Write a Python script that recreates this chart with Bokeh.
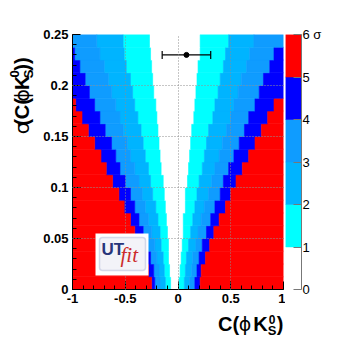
import numpy as np
from bokeh.plotting import figure
from bokeh.layouts import row, column
from bokeh.models import Range1d, FixedTicker, Label, BoxAnnotation, ColumnDataSource
from bokeh.core.properties import value
from bokeh.embed import file_html
from bokeh.resources import INLINE

# ---------------- data ----------------
# sigma(C) bin edges (rows of the 2D map, bottom -> top)
sigma_edges = [0.0, 0.0125, 0.025, 0.0375, 0.05, 0.0625, 0.075, 0.0875, 0.1, 0.1125,
               0.125, 0.1375, 0.15, 0.1625, 0.175, 0.1875, 0.2, 0.2125, 0.225, 0.2375, 0.25]

# C value where the compatibility crosses 1..5 sigma, left side, per row (bottom -> top)
left_1 = [-0.07, -0.08, -0.09, -0.09, -0.10, -0.11, -0.12, -0.13, -0.14, -0.16,
          -0.17, -0.18, -0.19, -0.20, -0.21, -0.23, -0.24, -0.25, -0.26, -0.27]
left_2 = [-0.12, -0.13, -0.14, -0.16, -0.17, -0.19, -0.21, -0.24, -0.26, -0.28,
          -0.31, -0.33, -0.35, -0.38, -0.41, -0.43, -0.45, -0.49, -0.51, -0.52]
left_3 = [-0.17, -0.18, -0.20, -0.22, -0.25, -0.28, -0.31, -0.34, -0.37, -0.41,
          -0.45, -0.48, -0.52, -0.55, -0.59, -0.63, -0.66, -0.70, -0.74, -0.77]
left_4 = [-0.22, -0.23, -0.26, -0.29, -0.33, -0.37, -0.41, -0.45, -0.50, -0.55,
          -0.59, -0.63, -0.69, -0.74, -0.79, -0.84, -0.88, -0.93, -0.98, -1.00]
left_5 = [-0.25, -0.28, -0.32, -0.36, -0.41, -0.45, -0.51, -0.56, -0.62, -0.68,
          -0.73, -0.79, -0.85, -0.91, -0.97, -1.00, -1.00, -1.00, -1.00, -1.00]
# same, right side
right_1 = [0.01, 0.02, 0.03, 0.04, 0.05, 0.05, 0.07, 0.07, 0.09, 0.10,
           0.11, 0.12, 0.13, 0.15, 0.16, 0.17, 0.18, 0.19, 0.21, 0.21]
right_2 = [0.06, 0.07, 0.08, 0.10, 0.12, 0.14, 0.16, 0.18, 0.20, 0.23,
           0.25, 0.27, 0.29, 0.33, 0.35, 0.38, 0.40, 0.43, 0.45, 0.48]
right_3 = [0.11, 0.13, 0.14, 0.17, 0.19, 0.22, 0.25, 0.29, 0.32, 0.35,
           0.39, 0.42, 0.46, 0.50, 0.53, 0.57, 0.60, 0.65, 0.68, 0.72]
right_4 = [0.16, 0.18, 0.20, 0.23, 0.27, 0.31, 0.35, 0.40, 0.43, 0.48,
           0.53, 0.58, 0.63, 0.67, 0.73, 0.77, 0.81, 0.87, 0.91, 1.00]
right_5 = [0.21, 0.22, 0.26, 0.30, 0.34, 0.39, 0.45, 0.50, 0.55, 0.61,
           0.67, 0.73, 0.79, 0.85, 0.91, 1.00, 1.00, 1.00, 1.00, 1.00]

# colour scale (sigma levels)
levels = [0, 1, 2, 3, 4, 5, 6]
level_labels = ["0", "1", "2", "3", "4", "5", "6  \u03c3"]
palette = ["#ffffff", "#00ffff", "#00b4ff", "#0f9cff", "#0000ff", "#ff0000"]

# measurement
meas_C = [0.08]
meas_err = [0.23]
meas_sigma = [0.23]

x_ticks = [-1, -0.5, 0, 0.5, 1]
x_tick_labels = ["-1", "-0.5", "0", "0.5", "1"]
y_ticks = [0, 0.05, 0.1, 0.15, 0.2, 0.25]
y_tick_labels = ["0", "0.05", "0.1", "0.15", "0.2", "0.25"]

X_MIN, X_MAX = -1.0, 1.0
Y_MIN, Y_MAX = 0.0, 0.25

# ---------------- layout geometry (page pixels) ----------------
FR_L, FR_R, FR_T, FR_B = 72, 283, 34, 289   # main frame
YT_W = 34          # y-title strip width
TOP_H = 311        # height of the top row
BOT_H = 29         # x-title strip height
MAIN_R = 285       # right end of the main figure
CB_BAR = 16        # colour bar width
CB_W = 45          # colour-bar figure width (bar + labels)
MAIN_W = MAIN_R - YT_W
TOTAL_W = YT_W + MAIN_W + CB_W

# ---------------- build map cells ----------------
L = [left_1, left_2, left_3, left_4, left_5]
R = [right_1, right_2, right_3, right_4, right_5]
cells = dict(left=[], right=[], bottom=[], top=[], color=[])


def add(l, r, b, t, lev):
    if r > l:
        cells["left"].append(l)
        cells["right"].append(r)
        cells["bottom"].append(b)
        cells["top"].append(t)
        cells["color"].append(palette[lev])


for k in range(len(sigma_edges) - 1):
    b, t = sigma_edges[k], sigma_edges[k + 1]
    add(L[0][k], R[0][k], b, t, 0)
    for n in range(1, 5):
        add(L[n][k], L[n - 1][k], b, t, n)
        add(R[n - 1][k], R[n][k], b, t, n)
    add(X_MIN, L[4][k], b, t, 5)
    add(R[4][k], X_MAX, b, t, 5)

# ---------------- main figure ----------------
p = figure(width=MAIN_W, height=TOP_H, x_range=Range1d(X_MIN, X_MAX), y_range=Range1d(Y_MIN, Y_MAX),
           output_backend="svg", toolbar_location=None, title=None,
           min_border_left=FR_L - YT_W, min_border_right=MAIN_R - FR_R,
           min_border_top=FR_T, min_border_bottom=TOP_H - FR_B)
p.outline_line_color = None
p.background_fill_color = "white"
p.border_fill_color = "white"

p.quad(left="left", right="right", bottom="bottom", top="top", fill_color="color",
       line_color="color", line_width=0.6, source=ColumnDataSource(cells))

# measurement with horizontal error bar
lo = [c - e for c, e in zip(meas_C, meas_err)]
hi = [c + e for c, e in zip(meas_C, meas_err)]
p.segment(x0=lo, x1=hi, y0=meas_sigma, y1=meas_sigma, line_color="black", line_width=1.2)
p.scatter(x=lo + hi, y=meas_sigma + meas_sigma, marker="dash", angle=np.pi / 2, size=8,
          line_color="black", line_width=1.2)
p.scatter(x=meas_C, y=meas_sigma, marker="circle", size=5, color="black")

# axes
tick_font = "Liberation Sans"
p.xaxis.ticker = FixedTicker(ticks=x_ticks, minor_ticks=list(np.round(np.arange(-1, 1.0001, 0.1), 2)))
p.yaxis.ticker = FixedTicker(ticks=y_ticks, minor_ticks=list(np.round(np.arange(0, 0.25001, 0.01), 3)))
p.xaxis.major_label_overrides = dict(zip(x_ticks, x_tick_labels))
p.yaxis.major_label_overrides = dict(zip(y_ticks, y_tick_labels))
for ax in (p.xaxis, p.yaxis):
    ax.major_label_text_font = tick_font
    ax.major_label_text_font_style = "bold"
    ax.major_label_text_font_size = "13px"
    ax.major_label_text_color = "black"
    ax.major_label_standoff = 4
    ax.major_tick_in = 8
    ax.major_tick_out = 0
    ax.minor_tick_in = 4
    ax.minor_tick_out = 0
    ax.axis_line_color = "black"
    ax.major_tick_line_color = "black"
    ax.minor_tick_line_color = "black"

for g in p.grid:
    g.grid_line_color = "#8c8c8c"
    g.grid_line_dash = "1 2"
    g.grid_line_width = 1
    g.level = "guide"
p.xgrid.ticker = FixedTicker(ticks=x_ticks)
p.ygrid.ticker = FixedTicker(ticks=y_ticks)


# helpers: page pixel position -> data coordinates of the main frame
def dx(px):
    return X_MIN + (px - FR_L) * (X_MAX - X_MIN) / (FR_R - FR_L)


def dy(py):
    return Y_MIN + (FR_B - py) * (Y_MAX - Y_MIN) / (FR_B - FR_T)


# UTfit logo
p.add_layout(BoxAnnotation(left=dx(95), right=dx(148), bottom=dy(275), top=dy(233),
                           fill_color="white", fill_alpha=1, line_color=None))
p.add_layout(BoxAnnotation(left=dx(99), right=dx(145), bottom=dy(270), top=dy(237),
                           fill_color="#f3f3f8", fill_alpha=1, line_color="#7d8cc0",
                           line_width=1.5, border_radius=3))
p.add_layout(Label(x=dx(101), y=dy(258), text="UT", text_font="Liberation Sans",
                   text_font_style="bold", text_font_size="17px", text_color="#28357a"))
p.add_layout(Label(x=dx(120), y=dy(266), text="fit", text_font="Liberation Serif",
                   text_font_style="italic", text_font_size="21px", text_color="#cc2b2b"))


def strip(w, h):
    f = figure(width=w, height=h, x_range=Range1d(0, w), y_range=Range1d(0, h),
               x_axis_location=None, y_axis_location=None, output_backend="svg",
               toolbar_location=None, title=None, min_border=0)
    f.outline_line_color = None
    f.grid.visible = False
    return f


title_font = "Liberation Sans"

# x axis title  C(phi K^0_S)  -- strip below the main row; pieces placed by their centres
xt = strip(TOTAL_W, BOT_H)


def xpiece(text, cx, cy, size, bold=True, font=title_font):
    xt.text(x=[cx], y=[TOP_H + BOT_H - cy], text=[text], text_font=value(font),
            text_font_style="bold" if bold else "normal", text_font_size=size,
            text_color="black", text_baseline="middle", text_align="center")


xpiece("C(", 228, 323, "20px")
xpiece("\u03d5", 244.5, 323, "19px", bold=False, font="DejaVu Sans")
xpiece("K", 260, 323, "20px")
xpiece("0", 271.5, 318.5, "12px")
xpiece("S", 271.5, 329.5, "13px")
xpiece(")", 279.5, 323, "20px")

# y axis title  sigma(C(phi K^0_S))  -- rotated, strip left of the main figure
yt = strip(YT_W, TOP_H)


def ypiece(text, cx, cy, size, bold=True, font=title_font):
    yt.text(x=[cx], y=[TOP_H - cy], text=[text], text_font=value(font), angle=np.pi / 2,
            text_font_style="bold" if bold else "normal", text_font_size=size,
            text_color="black", text_baseline="middle", text_align="center")


ypiece("\u03c3", 21, 114, "20px", bold=False, font="DejaVu Sans")
ypiece("(C(", 21, 94.5, "20px")
ypiece("\u03d5", 21.5, 74.5, "19px", bold=False, font="DejaVu Sans")
ypiece("K", 21, 59, "20px")
ypiece("0", 13.5, 48, "13px")
ypiece("S", 27.5, 48, "13px")
ypiece("))", 21, 36, "20px")

# ---------------- colour scale ----------------
cb = figure(width=CB_W, height=TOP_H, x_range=Range1d(0, 1), y_range=Range1d(levels[0], levels[-1]),
            x_axis_location=None, y_axis_location="right", output_backend="svg",
            toolbar_location=None, title=None, min_border_left=0, min_border_right=CB_W - CB_BAR,
            min_border_top=FR_T, min_border_bottom=TOP_H - FR_B)
cb.outline_line_color = None
cb.grid.visible = False
cb.quad(left=0, right=1, bottom=levels[:-1], top=levels[1:], fill_color=palette,
        line_color=palette, line_width=0.5)
cb.yaxis.ticker = FixedTicker(ticks=levels)
cb.yaxis.major_label_overrides = dict(zip(levels, level_labels))
cb.yaxis.major_label_text_font = tick_font
cb.yaxis.major_label_text_font_size = "13px"
cb.yaxis.major_label_text_color = "black"
cb.yaxis.major_label_standoff = 1
cb.yaxis.major_tick_in = 8
cb.yaxis.major_tick_out = 0
cb.yaxis.minor_tick_in = 0
cb.yaxis.minor_tick_out = 0
cb.yaxis.axis_line_color = "#777777"
cb.yaxis.major_tick_line_color = "#777777"

layout = column(row(yt, p, cb), xt)
open("out.html", "w").write(file_html(layout, INLINE))
